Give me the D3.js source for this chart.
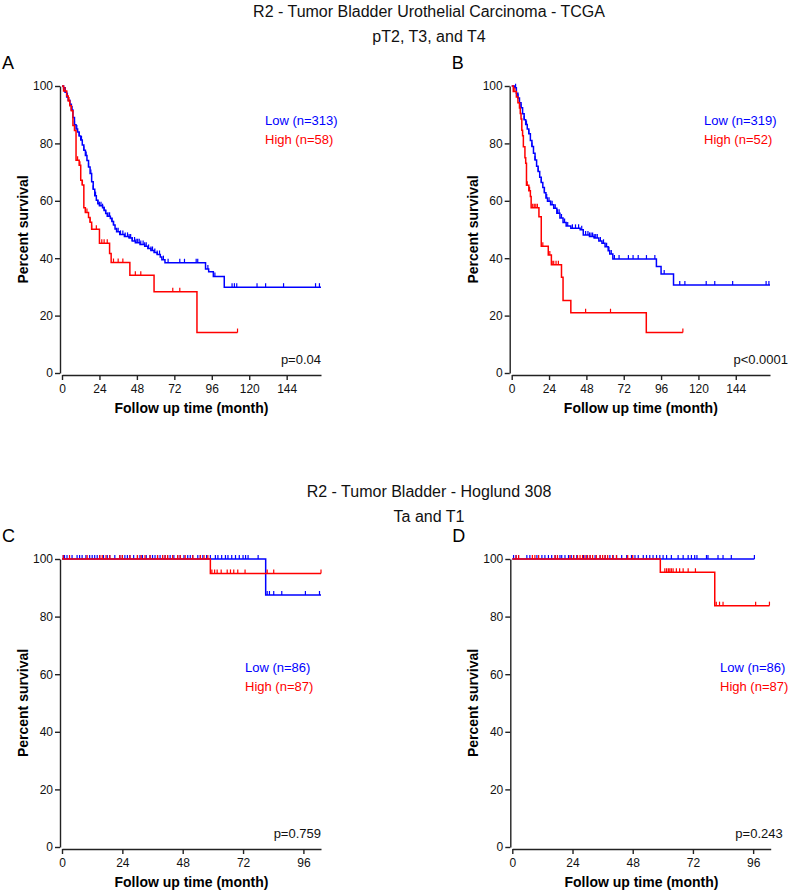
<!DOCTYPE html>
<html>
<head>
<meta charset="utf-8">
<script src="https://cdn.jsdelivr.net/npm/d3@7"></script>
<style>
  body { margin: 0; background: #fff; }
  svg { font-family: Arial, "Liberation Sans", sans-serif; }
</style>
</head>
<body>
<svg id="chart" width="789" height="894"></svg>
<script>
// ---- data : Kaplan-Meier steps [month, % survival], censor months ----

// A - TCGA, pT2-T4
const aLowSteps = [[0,100],[1,99.4],[2,97.8],[3,96.2],[4,95],[5,93.6],[6,91.6],[7,89],[8,86.5],[9,85],[10,84],[11,82.6],[12,81.2],[13,79.4],[14,77.6],[15,75.8],[16,74],[17,71.8],[18,69.5],[19,66.6],[20,64],[21,61.8],[22,60.2],[23,59],[24,58.3],[26,57.6],[27,56.6],[28,55.6],[29,54.6],[31,53.8],[32,52.8],[33,51.6],[34,50.2],[35,49.2],[37,48.3],[40,47.6],[43,47],[45,46],[47,45.4],[50,44.8],[53,44.2],[55,43.4],[57,42.7],[59,42],[61,41.3],[63,40.4],[64,39.5],[66,38.4],[92,36.2],[94,35.3],[97,33.6],[104,29.9]];
const aLowEnd = 166;
const aLowCensor = [2,3.5,5,6.5,8,9.5,11,12.5,14,15.5,17,18.5,20,21.5,23,24,25,26,27,28,29.5,30.5,32,33,35,36,37.5,39,40.5,42,43,44,45,46.5,47.5,48.5,49.5,50.5,52,53,54,55.5,57,58,59.5,61,62.5,65,68,75.5,78.5,86,87,93.5,98,109,110.5,112,125,130.5,142,162.5,165];
const aHighSteps = [[0,100],[1,98.3],[3,96.5],[4,94.8],[5,93.1],[6,91.4],[7,86.2],[8,84.5],[9,74.1],[11,72.4],[12,67.2],[13,65.5],[14,57.6],[15,55.9],[17,54.2],[18,52.5],[19,50.1],[24,45.2],[30.5,41.6],[31.5,38.5],[43.5,34.1],[59,28.3],[86.5,14.1]];
const aHighEnd = 112.5;
const aHighCensor = [2,4.5,6,10,11.5,13,15,16,18,19,22,25.5,27,29,33,36,39,47,50.5,71,75.5,112.5];

// B - TCGA, pT2-T4
const bLowSteps = [[0,100],[2,99.4],[3,97.5],[4,95.8],[5,94.2],[6,92.4],[7,90.3],[8,88.2],[9,86.6],[10,85],[11,83.4],[12,81],[13,78.9],[14,76.6],[15,74.2],[16,72],[17,70.2],[18,68.2],[19,66.4],[20,64.6],[21,62.8],[22,61],[23,59.8],[25,58.6],[27,57.4],[29,55.7],[31,54],[33,52.4],[35,51.2],[38,50.4],[44,49.9],[46,48.1],[50,47.6],[53,47],[56,46],[58,45.2],[60,44],[62,42.6],[63,41.5],[65,39.7],[93,37.1],[96,34.5],[104,30.7]];
const bLowEnd = 166;
const bLowCensor = [2.5,4,6,8,9.5,11,13,15,17,19,21,22.5,24,25,26,27,28,29.5,30.5,32,34,36,39,41,43,45,47.5,49,50,51,52,53,54,55,57,59,61,62.5,64,66,69,75,78,81.3,86.6,92,98,108,111.3,125,130.5,142,163.5,165.3];
const bHighSteps = [[0,100],[1,98.1],[3,96.2],[4,94.2],[5,92.3],[5.5,90.4],[6,88.5],[6.5,84.6],[7,82.7],[7.5,78.8],[8.5,75],[9,73.1],[9.5,65.4],[11,63.5],[12,61.5],[12.5,57.6],[17.5,54.4],[19,44.2],[23.5,41.1],[25.5,37.7],[32,33.4],[33,25.3],[38,21],[86.5,14.1]];
const bHighEnd = 110;
const bHighCensor = [2,10,11.5,13.5,14.5,15.5,16.5,20,24.5,26,27,28.5,30,47.5,63.5,110];

// C - Hoglund, Ta/T1
const cLowSteps = [[0,100],[81,87.5]];
const cLowEnd = 103;
const cLowCensor = [0.5,1,2,4,6,7,8,9.5,11,12,13,14,15,16.5,18,19,21,23,24,25,26,27,28.5,30,31,32,33.5,35,36,37,38,39,40,41,42,43,44.5,46,47,48.5,50,51,52,54,55,56,57.5,59,61,62,63.5,65,66,67.5,69,70.5,72,73,74,78,81.6,82.5,84.2,87.4,96.8,102.4];
const cHighSteps = [[0,100],[59,95]];
const cHighEnd = 103;
const cHighCensor = [0.5,3,10,15,16,17.5,19,23,24,27,30,31.5,33,35,38,40,41,42,44,46,47,49,52,55,56.5,58,59.6,60.7,61.7,63.3,65.7,67,68.3,69.9,72.8,81.6,84.2,103];

// D - Hoglund, Ta/T1
const dLowSteps = [[0,100]];
const dLowEnd = 96.5;
const dLowCensor = [0.5,1.5,2.5,5.8,7,9.8,11.8,13,14.4,15.7,17.1,19,19.7,21,22.4,23.5,24.4,25.7,28.4,29.7,31,33,35,37,38.9,40.2,41.6,43.6,45.6,47.5,48.9,50.2,52.2,53.5,54.8,56.1,57.5,58.8,60.1,61.5,63.4,66.1,68.1,70.1,71.4,72.7,73.6,77.4,78,82,84,87.3,96.5];
const dHighSteps = [[0,100],[59,95.4],[80.7,83.8]];
const dHighEnd = 102.5;
const dHighCensor = [1.5,2.5,8,9,10.5,17,18,23,24.5,26,27,28,29,30,31,32,33.5,35,36,37,38,40,41.5,46,48,60.8,61.5,62.2,62.8,63.4,64.1,65.4,66.7,68.1,70.1,73,81.3,82.6,84,97,102.5];

const yTicks = [0, 20, 40, 60, 80, 100];
const xTicksLong = [0, 24, 48, 72, 96, 120, 144];
const xTicksShort = [0, 24, 48, 72, 96];

const titles = [
    { lines: ["R2 - Tumor Bladder Urothelial Carcinoma - TCGA", "pT2, T3, and T4"], y: 17 },
    { lines: ["R2 - Tumor Bladder - Hoglund 308", "Ta and T1"], y: 497 }
];

const panels = [
    { label: "A", x0: 62, x1: 321, top: 86, bottom: 373, xMax: 166, xTicks: xTicksLong,
      low: { steps: aLowSteps, end: aLowEnd, censor: aLowCensor, name: "Low (n=313)" },
      high: { steps: aHighSteps, end: aHighEnd, censor: aHighCensor, name: "High (n=58)" },
      legendX: 265, legendY: 125, p: "p=0.04" },
    { label: "B", x0: 511.7, x1: 770, top: 86, bottom: 373, xMax: 166, xTicks: xTicksLong,
      low: { steps: bLowSteps, end: bLowEnd, censor: bLowCensor, name: "Low (n=319)" },
      high: { steps: bHighSteps, end: bHighEnd, censor: bHighCensor, name: "High (n=52)" },
      legendX: 704, legendY: 125, p: "p<0.0001" },
    { label: "C", x0: 62, x1: 321, top: 559, bottom: 847, xMax: 103, xTicks: xTicksShort,
      low: { steps: cLowSteps, end: cLowEnd, censor: cLowCensor, name: "Low (n=86)" },
      high: { steps: cHighSteps, end: cHighEnd, censor: cHighCensor, name: "High (n=87)" },
      legendX: 245, legendY: 672, p: "p=0.759" },
    { label: "D", x0: 512.3, x1: 770.7, top: 559, bottom: 847, xMax: 103, xTicks: xTicksShort,
      low: { steps: dLowSteps, end: dLowEnd, censor: dLowCensor, name: "Low (n=86)" },
      high: { steps: dHighSteps, end: dHighEnd, censor: dHighCensor, name: "High (n=87)" },
      legendX: 720, legendY: 672, p: "p=0.243" }
];

const colLow = "#0000ff";
const colHigh = "#ff0000";

const svg = d3.select("#chart");

// titres
titles.forEach(t => {
    svg.append("text")
        .attr("x", 429).attr("y", t.y)
        .attr("text-anchor", "middle")
        .attr("font-size", 16)
        .attr("fill", "#111")
        .selectAll("tspan")
        .data(t.lines)
        .join("tspan")
        .attr("x", 429)
        .attr("dy", (d, i) => i === 0 ? 0 : 25)
        .text(d => d);
});

function survivalAt(steps, t) {
    const i = d3.bisector(d => d[0]).right(steps, t) - 1;
    return steps[Math.max(0, i)][1];
}

function drawPanel(p) {
    const x = d3.scaleLinear().domain([0, p.xMax]).range([p.x0, p.x1]);
    const y = d3.scaleLinear().domain([0, 100]).range([p.bottom, p.top]);
    const g = svg.append("g");

    // panel letter
    g.append("text")
        .attr("x", p.x0 - 60).attr("y", p.top - 17)
        .attr("font-size", 18)
        .text(p.label);

    // axes (style Prism, décalés)
    const yAxis = g.append("g")
        .attr("transform", `translate(${p.x0 - 2},0)`)
        .call(d3.axisLeft(y).tickValues(yTicks).tickSize(5).tickPadding(2).tickSizeOuter(0));
    const xAxis = g.append("g")
        .attr("transform", `translate(0,${p.bottom + 2})`)
        .call(d3.axisBottom(x).tickValues(p.xTicks).tickSize(5).tickPadding(4).tickSizeOuter(0));
    [yAxis, xAxis].forEach(ax => {
        ax.selectAll("path, line").attr("stroke", "#222").attr("stroke-width", 1.4);
        ax.selectAll("text").attr("font-size", 12).attr("fill", "#111")
            .attr("font-family", "Arial, 'Liberation Sans', sans-serif");
    });

    g.append("text")
        .attr("transform", `translate(${p.x0 - 34},${(p.top + p.bottom) / 2}) rotate(-90)`)
        .attr("text-anchor", "middle")
        .attr("font-size", 14).attr("font-weight", "bold")
        .text("Percent survival");

    g.append("text")
        .attr("x", (p.x0 + p.x1) / 2).attr("y", p.bottom + 40)
        .attr("text-anchor", "middle")
        .attr("font-size", 14).attr("font-weight", "bold")
        .text("Follow up time (month)");

    const line = d3.line().x(d => x(d[0])).y(d => y(d[1])).curve(d3.curveStepAfter);

    [[p.low, colLow], [p.high, colHigh]].forEach(([s, col]) => {
        const pts = s.steps.concat([[s.end, s.steps[s.steps.length - 1][1]]]);
        g.append("path")
            .attr("d", line(pts))
            .attr("fill", "none")
            .attr("stroke", col)
            .attr("stroke-width", 1.5);
        g.selectAll(null)
            .data(s.censor)
            .join("line")
            .attr("x1", d => x(d)).attr("x2", d => x(d))
            .attr("y1", d => y(survivalAt(s.steps, d)))
            .attr("y2", d => y(survivalAt(s.steps, d)) - 4)
            .attr("stroke", col)
            .attr("stroke-width", 1.2);
    });

    // légende
    g.append("text").attr("x", p.legendX).attr("y", p.legendY)
        .attr("font-size", 13).attr("fill", colLow).text(p.low.name);
    g.append("text").attr("x", p.legendX).attr("y", p.legendY + 19)
        .attr("font-size", 13).attr("fill", colHigh).text(p.high.name);

    g.append("text")
        .attr("x", p.x1 + (p.p === "p<0.0001" ? 18 : (p.label === "D" ? 12 : 0)))
        .attr("y", p.bottom - 9)
        .attr("text-anchor", "end")
        .attr("font-size", 13).attr("fill", "#111")
        .text(p.p);
}

panels.forEach(drawPanel);
</script>
</body>
</html>
